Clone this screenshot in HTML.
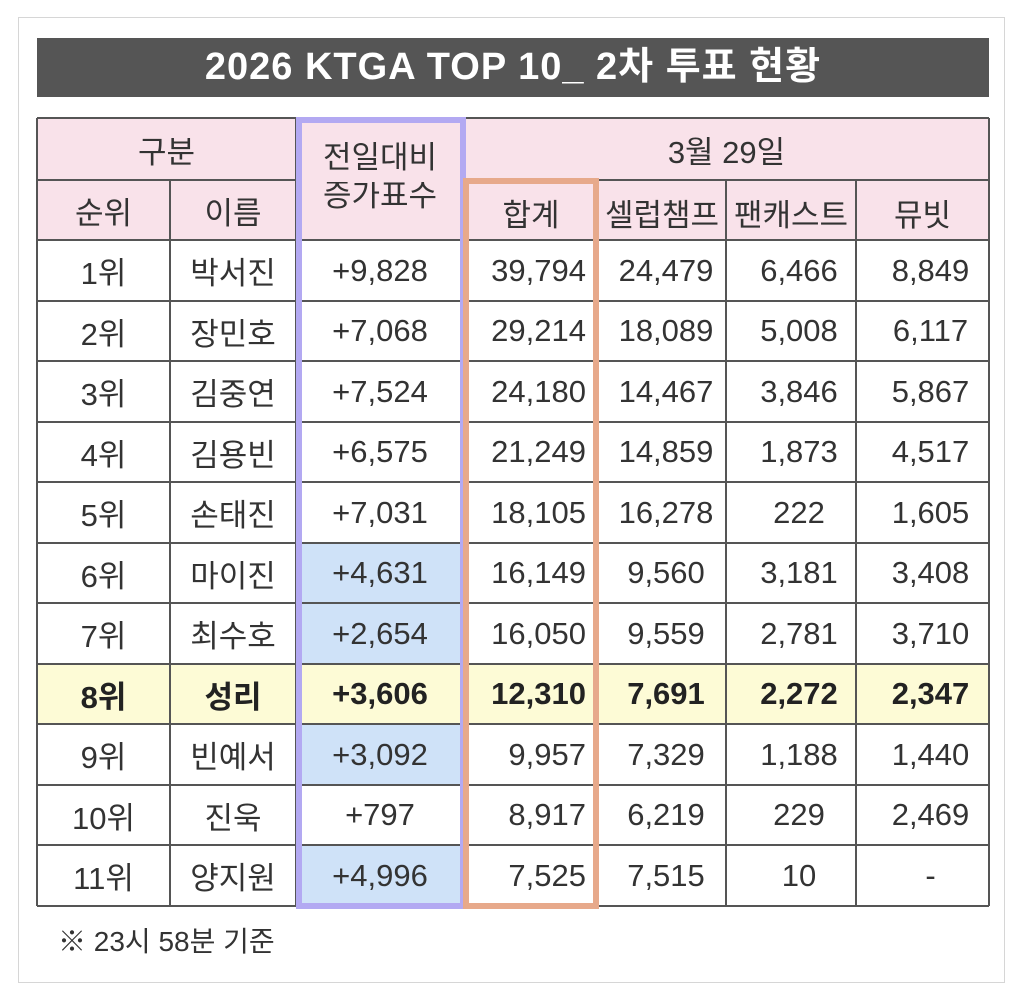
<!DOCTYPE html>
<html><head><meta charset="utf-8"><style>
body{margin:0;width:1024px;height:1001px;background:#fff;position:relative;overflow:hidden;font-family:"Liberation Sans","Noto Sans CJK KR",sans-serif;color:#333}
.frame{position:absolute;left:18px;top:17px;width:985px;height:964px;border:1px solid #d6d6d6}
.title{position:absolute;left:37px;top:38px;width:952px;height:59px;background:#555;color:#fff;font-size:38px;font-weight:bold;text-align:center;line-height:59px;letter-spacing:1px}
.c{position:absolute;display:flex;align-items:center;justify-content:center;font-size:31px;box-sizing:border-box}
.r{justify-content:flex-end;padding-right:12px}
.hl{position:absolute;height:1.5px;background:#555}
.vl{position:absolute;width:1.5px;background:#555}
.b{font-weight:bold;color:#222}
</style></head><body>
<div class="frame"></div>
<div class="title">2026 KTGA TOP 10_ 2차 투표 현황</div>
<div id="t"></div>
<div style="position:absolute;left:58px;top:920px;font-size:28px;color:#333">※ 23시 58분 기준</div>
<script>
const X=[37,170,296,464,598,726,856,989];
const Y=[118,180,240,301,361,422,482,543,603,664,724,785,845,906];
const data=[
["1위","박서진","+9,828","39,794","24,479","6,466","8,849"],
["2위","장민호","+7,068","29,214","18,089","5,008","6,117"],
["3위","김중연","+7,524","24,180","14,467","3,846","5,867"],
["4위","김용빈","+6,575","21,249","14,859","1,873","4,517"],
["5위","손태진","+7,031","18,105","16,278","222","1,605"],
["6위","마이진","+4,631","16,149","9,560","3,181","3,408"],
["7위","최수호","+2,654","16,050","9,559","2,781","3,710"],
["8위","성리","+3,606","12,310","7,691","2,272","2,347"],
["9위","빈예서","+3,092","9,957","7,329","1,188","1,440"],
["10위","진욱","+797","8,917","6,219","229","2,469"],
["11위","양지원","+4,996","7,525","7,515","10","-"]];
const blue=[5,6,8,10];
let h='';
function cell(x1,y1,x2,y2,txt,bg,cls){h+=`<div class="c ${cls||''}" style="left:${x1}px;top:${y1}px;width:${x2-x1}px;height:${y2-y1}px;background:${bg||'transparent'}">${txt}</div>`;}
const pink='#f9e2ea';
cell(X[0],Y[0],X[7],Y[2],'',pink);
cell(X[0],Y[0],X[2],Y[1],'구분');
cell(X[2],Y[0],X[3],Y[2],'<div style="text-align:center;line-height:38px;margin-top:-4px">전일대비<br>증가표수</div>');
cell(X[3],Y[0],X[7],Y[1],'3월 29일');
['순위','이름'].forEach((t,i)=>cell(X[i],Y[1],X[i+1],Y[2],t));
['합계','셀럽챔프','팬캐스트','뮤빗'].forEach((t,i)=>cell(X[i+3],Y[1]+4,X[i+4],Y[2],t));
data.forEach((row,ri)=>{
 const y1=Y[ri+2],y2=Y[ri+3];
 const yel=ri==7;
 if(yel)cell(X[0],y1,X[7],y2,'','#fdfbd6');
 row.forEach((t,ci)=>{
  let bg=(ci==2&&blue.includes(ri))?'#cfe2f8':null;
  let cls=(ci==3?'r':'')+(yel?' b':'');
  let x1=X[ci],x2=X[ci+1];
  if(ci>=5){x1+=8;x2+=8;}
  if(ci==4){x1=X[4]+4;x2=X[5]+4}
  cell(X[ci],y1,X[ci+1],y2,'',bg);
  cell(x1,y1,x2,y2,t,null,cls);
 });
});
Y.forEach((y,i)=>{h+=`<div class="hl" style="left:${X[0]}px;top:${y-1}px;width:${X[7]-X[0]}px"></div>`;});
for(let i=0;i<X.length;i++){let y1=Y[0];if(i==1||i>=4&&i<=6)y1=Y[1];h+=`<div class="vl" style="left:${X[i]-1}px;top:${y1}px;height:${Y[13]-y1}px"></div>`;}
h+=`<div style="position:absolute;left:${X[2]+2}px;top:${Y[1]-2}px;width:${X[3]-X[2]-4}px;height:4px;background:${pink}"></div>`;
h+=`<div style="position:absolute;left:296px;top:117px;width:170px;height:792px;border:6px solid #b3a9f2;box-sizing:border-box"></div>`;
h+=`<div style="position:absolute;left:463px;top:178px;width:136px;height:731px;border:6px solid #e7a98b;box-sizing:border-box"></div>`;
document.getElementById('t').innerHTML=h;
</script>
</body></html>
